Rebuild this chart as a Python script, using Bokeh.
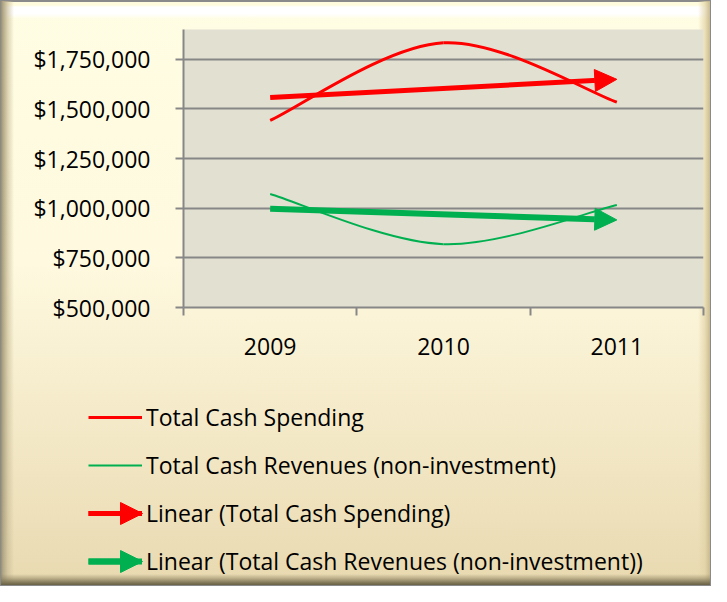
import numpy as np
from bokeh.plotting import figure
from bokeh.layouts import column
from bokeh.models import (Range1d, FixedTicker, NumeralTickFormatter, Legend, LegendItem,
                          Arrow, NormalHead, ColumnDataSource)
from bokeh.embed import file_html
from bokeh.resources import INLINE

# ---- data ----
years = ["2009", "2010", "2011"]
spending = [1442000, 1833000, 1534000]
revenues = [1072000, 819000, 1016000]
y_ticks = [500000, 750000, 1000000, 1250000, 1500000, 1750000]
y_min, y_max = 500000, 1900000
series_names = ["Total Cash Spending", "Total Cash Revenues (non-investment)"]
trend_names = ["Linear (Total Cash Spending)", "Linear (Total Cash Revenues (non-investment))"]

RED = "#FF0000"
GREEN = "#00B050"
GRID = "#878787"
FONT = "Open Sans"
FS = "23px"
W = 711
H1, H2 = 380, 206

x = np.arange(len(years), dtype=float)


def smooth_segments(xs, ys):
    """Excel-style smoothed line: cubic Bezier segments between data points."""
    xs = np.asarray(xs, float)
    ys = np.asarray(ys, float)
    px = np.concatenate([[xs[0]], xs, [xs[-1]]])
    py = np.concatenate([[ys[0]], ys, [ys[-1]]])
    seg = dict(x0=[], y0=[], x1=[], y1=[], cx0=[], cy0=[], cx1=[], cy1=[])
    for j in range(1, len(xs)):
        seg["x0"].append(px[j]); seg["y0"].append(py[j])
        seg["x1"].append(px[j + 1]); seg["y1"].append(py[j + 1])
        seg["cx0"].append(px[j] + (px[j + 1] - px[j - 1]) / 6)
        seg["cy0"].append(py[j] + (py[j + 1] - py[j - 1]) / 6)
        seg["cx1"].append(px[j + 1] - (px[j + 2] - px[j]) / 6)
        seg["cy1"].append(py[j + 1] - (py[j + 2] - py[j]) / 6)
    return ColumnDataSource(seg)


# ---------------- chart ----------------
p = figure(width=W, height=H1, output_backend="svg", toolbar_location=None,
           x_range=Range1d(-0.5, len(years) - 0.5), y_range=Range1d(y_min, y_max),
           min_border_left=183, min_border_right=8, min_border_top=29,
           min_border_bottom=H1 - 29 - 278)
p.frame_align = False
p.background_fill_color = "#E1E0D1"
p.border_fill_alpha = 0
p.outline_line_color = None

xa = p.xaxis[0]
xa.ticker = FixedTicker(ticks=list(x), minor_ticks=list(np.arange(len(years) + 1) - 0.5))
xa.major_label_overrides = {i: yr for i, yr in enumerate(years)}
xa.major_tick_out = 0
xa.major_tick_in = 0
xa.minor_tick_out = 8
xa.minor_tick_in = 0
xa.minor_tick_line_color = GRID
xa.minor_tick_line_width = 2
xa.axis_line_color = GRID
xa.axis_line_width = 2
xa.major_label_standoff = 22
xa.major_label_text_font = FONT
xa.major_label_text_font_size = FS
xa.major_label_text_color = "black"

ya = p.yaxis[0]
ya.ticker = FixedTicker(ticks=y_ticks)
ya.formatter = NumeralTickFormatter(format="$0,0")
ya.major_tick_out = 8
ya.major_tick_in = 0
ya.major_tick_line_color = GRID
ya.major_tick_line_width = 2
ya.axis_line_color = GRID
ya.axis_line_width = 2
ya.major_label_standoff = 25
ya.major_label_text_font = FONT
ya.major_label_text_font_size = FS
ya.major_label_text_color = "black"

p.xgrid.visible = False
p.ygrid.grid_line_color = GRID
p.ygrid.grid_line_width = 2

bez = dict(x0="x0", y0="y0", x1="x1", y1="y1", cx0="cx0", cy0="cy0", cx1="cx1", cy1="cy1")
p.bezier(source=smooth_segments(x, spending), line_color=RED, line_width=3, **bez)
p.bezier(source=smooth_segments(x, revenues), line_color=GREEN, line_width=2, **bez)

for vals, color, w in [(spending, RED, 5), (revenues, GREEN, 6)]:
    m, b = np.polyfit(x, np.asarray(vals, float), 1)
    ty = m * x + b
    p.add_layout(Arrow(end=NormalHead(size=22, fill_color=color, line_color=color, line_width=1),
                       x_start=x[0], y_start=ty[0], x_end=x[-1], y_end=ty[-1],
                       line_color=color, line_width=w))

# ---------------- legend panel ----------------
q = figure(width=W, height=H2, output_backend="svg", toolbar_location=None,
           x_range=Range1d(0, W), y_range=Range1d(H2, 0),
           x_axis_type=None, y_axis_type=None, min_border=0)
q.frame_align = False
q.background_fill_alpha = 0
q.border_fill_alpha = 0
q.outline_line_color = None
q.xgrid.visible = False
q.ygrid.visible = False

GW, RH, SP = 54, 32, 16
LX = 88
LEG_TOP = 409 - 8 - H1
styles = [(RED, 3), (GREEN, 2), (RED, 5), (GREEN, 6)]
names = series_names + trend_names
icons = [q.line(x=[np.nan], y=[np.nan], line_color=c, line_width=w) for c, w in styles]
legend = Legend(items=[LegendItem(label=n, renderers=[r]) for n, r in zip(names, icons)],
                location=(LX, H2 - (LEG_TOP + 4 * RH + 3 * SP)), orientation="vertical",
                glyph_width=GW, glyph_height=RH, label_height=RH, spacing=SP,
                padding=0, margin=0, label_standoff=4,
                border_line_alpha=0, background_fill_alpha=0,
                label_text_font=FONT, label_text_font_size=FS, label_text_color="black",
                label_text_baseline="middle")
q.add_layout(legend)

for i in (2, 3):
    c, w = styles[i]
    cy = LEG_TOP + i * (RH + SP) + RH / 2
    q.add_layout(Arrow(end=NormalHead(size=22, fill_color=c, line_color=c, line_width=1),
                       x_start=LX, y_start=cy, x_end=LX + GW, y_end=cy,
                       line_color=c, line_width=w))

layout = column(p, q, spacing=0)
layout.styles = {
    "background": ", ".join([
        # bottom bevel
        "linear-gradient(to top, #5e5740 0px, #7d7455 3px, rgba(140,130,95,0.45) 8px, rgba(255,255,255,0) 12px)",
        # left bevel
        "linear-gradient(to right, #8a8268 0px, #b3a886 3px, rgba(200,188,150,0.6) 8px, rgba(255,255,255,0) 14px)",
        # right bevel
        "linear-gradient(to left, #c4b48a 0px, rgba(225,210,165,0.7) 6px, rgba(255,255,255,0) 13px)",
        # top highlight band
        "linear-gradient(to bottom, #8a8a8a 0px, #8a8a8a 2px, #FFFBDD 2px, #FFFBDD 5px, #ffffff 7px, #ffffff 14px, rgba(255,255,255,0) 19px)",
        # main fill
        "linear-gradient(180deg, #FFFDE3 0%, #FEF9DF 45%, #F3E8C6 75%, #E8D9B0 100%)",
    ]),
    "box-shadow": "inset 0 0 0 1px #8a8a8a",
}

open("out.html", "w").write(file_html(layout, INLINE))
